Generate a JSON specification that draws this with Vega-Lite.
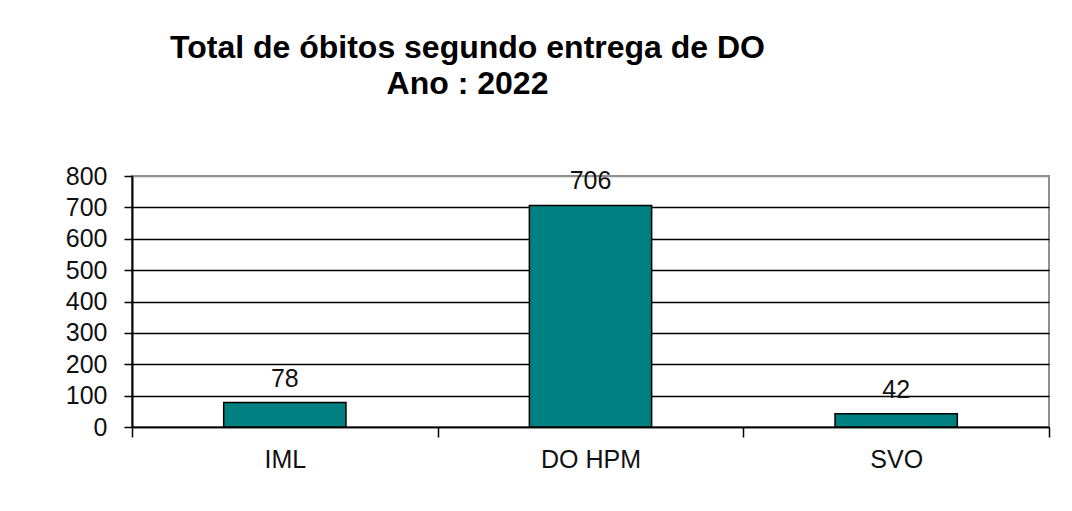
{
  "$schema": "https://vega.github.io/schema/vega-lite/v6.json",
  "width": 917,
  "height": 251,
  "autosize": {"type": "none"},
  "padding": {"left": 132, "top": 176, "right": 23, "bottom": 84},
  "background": "white",
  "title": {
    "text": ["Total de óbitos segundo entrega de DO", "Ano : 2022"],
    "font": "Liberation Sans",
    "fontSize": 32,
    "fontWeight": "bold",
    "color": "#000000",
    "lineHeight": 36,
    "anchor": "middle",
    "dx": -123,
    "offset": 63
  },
  "data": {
    "values": [
      {"categoria": "IML", "total": 78},
      {"categoria": "DO HPM", "total": 706},
      {"categoria": "SVO", "total": 42}
    ]
  },
  "encoding": {
    "x": {
      "field": "categoria",
      "type": "nominal",
      "sort": null,
      "scale": {"paddingInner": 0, "paddingOuter": 0},
      "axis": {
        "title": null,
        "labelAngle": 0,
        "labelFont": "Liberation Sans",
        "labelFontSize": 25,
        "labelColor": "#111111",
        "labelPadding": 10,
        "tickSize": 10,
        "tickColor": "#000000",
        "tickWidth": 1.5,
        "tickBand": "extent",
        "domainColor": "#000000",
        "domainWidth": 1.5,
        "grid": false
      }
    },
    "y": {
      "field": "total",
      "type": "quantitative",
      "scale": {"domain": [0, 800], "nice": false},
      "axis": {
        "title": null,
        "values": [0, 100, 200, 300, 400, 500, 600, 700, 800],
        "tickCount": 9,
        "labelOverlap": false,
        "labelFont": "Liberation Sans",
        "labelFontSize": 25,
        "labelColor": "#111111",
        "labelPadding": 17,
        "tickSize": 8,
        "tickColor": "#000000",
        "tickWidth": 1.5,
        "domainColor": "#000000",
        "domainWidth": 2,
        "grid": true,
        "gridColor": {"condition": {"test": "datum.value === 800", "value": "#909090"}, "value": "#000000"},
        "gridWidth": 1.5
      }
    }
  },
  "layer": [
    {
      "mark": {"type": "bar", "color": "#008080", "stroke": "#000000", "strokeWidth": 1.5, "width": {"band": 0.4}}
    },
    {
      "mark": {"type": "text", "font": "Liberation Sans", "fontSize": 25, "color": "#111111", "baseline": "alphabetic", "dy": -16},
      "encoding": {
        "text": {"field": "total", "type": "quantitative"}
      }
    }
  ],
  "config": {
    "view": {"stroke": "#909090", "strokeWidth": 2}
  }
}
